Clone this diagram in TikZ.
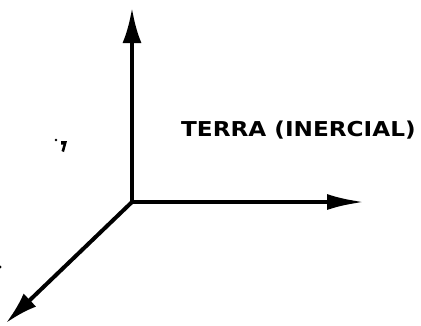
\documentclass[tikz,border=0pt]{standalone}
\usepackage{fontspec}
\usepackage{tikz}
\usetikzlibrary{arrows.meta}
\newfontfamily\terrafont{DejaVu Sans}

\begin{document}
\begin{tikzpicture}[x=1pt,y=-1pt]
        \useasboundingbox (0,0) rectangle (421,325);
        %origin and axis ends
        \coordinate (o) at (132,202);
        \coordinate (up) at (132,8);
        \coordinate (right) at (364,202);
        \coordinate (down) at (6,323);
        \draw[black,line width=4pt,-{Latex[length=35pt,width=19pt]}] (o)--(up);
        \draw[black,line width=4pt,-{Latex[length=37pt,width=16pt]}] (o)--(right);
        \draw[black,line width=4pt,-{Latex[length=33pt,width=18pt]}] (o)--(down);

        %label
        \node[anchor=west,inner sep=0pt,font=\terrafont\bfseries\fontsize{20.5}{21}\selectfont] (terra) at (181,130){\scalebox{1.13}[1]{TERRA (INERCIAL)}};

        %specks
        \fill (56,140) circle (1.4);
        \fill (61,141)--(67,141)--(64,152)--(61.5,151)--(63.5,144.5)--(61,144.5)--cycle;
        \fill (0,267) circle (1.6);
\end{tikzpicture}
\end{document}
